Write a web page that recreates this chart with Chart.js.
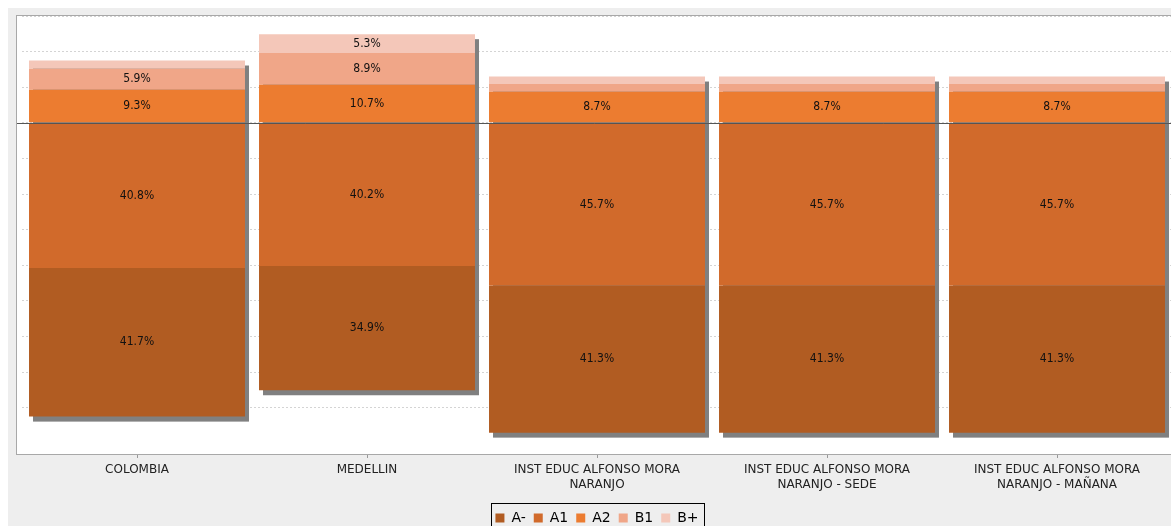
<!DOCTYPE html>
<html>
<head>
<meta charset="utf-8">
<script src="https://cdn.jsdelivr.net/npm/chart.js@4.4.0/dist/chart.umd.min.js"></script>
<style>
html, body { margin: 0; padding: 0; overflow: hidden; background: #fff; }
#wrap { width: 1176px; height: 535px; }
</style>
</head>
<body>
<div id="wrap"><canvas id="levelsChart"></canvas></div>
<script>
var categories = [
    'COLOMBIA',
    'MEDELLIN',
    ['INST EDUC ALFONSO MORA', 'NARANJO'],
    ['INST EDUC ALFONSO MORA', 'NARANJO - SEDE'],
    ['INST EDUC ALFONSO MORA', 'NARANJO - MAÑANA']
];
var levelAminus = [41.7, 34.9, 41.3, 41.3, 41.3];
var levelA1 = [40.8, 40.2, 45.7, 45.7, 45.7];
var levelA2 = [9.3, 10.7, 8.7, 8.7, 8.7];
var levelB1 = [5.9, 8.9, 2.2, 2.2, 2.2];
var levelBplus = [2.3, 5.3, 2.1, 2.1, 2.1];
var yMin = -93;
var yMax = 30;
var yStep = 10;

// panel background (white plot area on grey)
var panelPlugin = {
    id: 'panel',
    beforeDraw: function(chart) {
        var ctx = chart.ctx, a = chart.chartArea;
        var left = a.left - 5;
        ctx.save();
        ctx.fillStyle = '#ffffff';
        ctx.fillRect(0, 0, chart.width, chart.height);
        ctx.fillStyle = '#eeeeee';
        ctx.fillRect(8, 8, chart.width - 8, chart.height - 8);
        ctx.fillStyle = '#ffffff';
        ctx.fillRect(left, a.top, a.right - left, a.bottom - a.top);
        ctx.restore();
    }
};

// grey drop shadow behind each whole stack
var shadowPlugin = {
    id: 'barShadow',
    beforeDatasetsDraw: function(chart) {
        var ctx = chart.ctx, a = chart.chartArea, y = chart.scales.y;
        var meta = chart.getDatasetMeta(0);
        var left = a.left - 5;
        ctx.save();
        // plot frame, drawn over the edge grid lines
        ctx.strokeStyle = '#a8a8a8';
        ctx.lineWidth = 1;
        ctx.strokeRect(left - 0.5, a.top - 0.5, a.right - left + 1, a.bottom - a.top + 1);
        ctx.fillStyle = '#808080';
        meta.data.forEach(function(bar, i) {
            var top = y.getPixelForValue(levelA2[i] + levelB1[i] + levelBplus[i]);
            var bottom = y.getPixelForValue(-(levelAminus[i] + levelA1[i]));
            ctx.fillRect(bar.x - bar.width / 2 + 4, top + 5, bar.width, bottom - top);
        });
        ctx.restore();
    }
};

// percent labels + zero line
var labelPlugin = {
    id: 'segLabels',
    afterDatasetsDraw: function(chart) {
        var ctx = chart.ctx, a = chart.chartArea, y = chart.scales.y;
        ctx.save();
        ctx.font = '12px "DejaVu Sans Condensed", "DejaVu Sans"';
        ctx.fillStyle = '#111111';
        ctx.textAlign = 'center';
        ctx.textBaseline = 'middle';
        chart.data.datasets.forEach(function(ds, d) {
            chart.getDatasetMeta(d).data.forEach(function(bar, i) {
                var v = Math.abs(ds.data[i]);
                if (v < 5) return;
                ctx.fillText(v.toFixed(1) + '%', bar.x, (bar.y + bar.base) / 2);
            });
        });
        var y0 = Math.round(y.getPixelForValue(0)) + 0.5;
        ctx.strokeStyle = '#555555';
        ctx.lineWidth = 1;
        ctx.beginPath();
        ctx.moveTo(a.left - 5, y0);
        ctx.lineTo(a.right, y0);
        ctx.stroke();
        ctx.restore();
    }
};

// black frame round the legend
var legendFramePlugin = {
    id: 'legendFrame',
    afterDraw: function(chart) {
        var boxes = chart.legend.legendHitBoxes;
        if (!boxes || !boxes.length) return;
        var left = Math.min.apply(null, boxes.map(function(b) { return b.left; })) - 4;
        var right = Math.max.apply(null, boxes.map(function(b) { return b.left + b.width; })) + 6;
        var top = boxes[0].top - 8;
        var ctx = chart.ctx;
        ctx.save();
        ctx.strokeStyle = '#000000';
        ctx.lineWidth = 1;
        ctx.strokeRect(Math.round(left) + 0.5, Math.round(top) + 0.5, Math.round(right - left), 40);
        ctx.restore();
    }
};

function neg(arr) {
    return arr.map(function(v) { return -v; });
}

var config = {
    type: 'bar',
    data: {
        labels: categories,
        datasets: [
            { label: 'A-', data: neg(levelAminus), backgroundColor: '#b15c22', order: 1 },
            { label: 'A1', data: neg(levelA1), backgroundColor: '#d16a2b', order: 0 },
            { label: 'A2', data: levelA2, backgroundColor: '#ec7c30', order: 0 },
            { label: 'B1', data: levelB1, backgroundColor: '#f0a688', order: 0 },
            { label: 'B+', data: levelBplus, backgroundColor: '#f4c7b9', order: 0 }
        ]
    },
    options: {
        responsive: true,
        maintainAspectRatio: false,
        animation: false,
        devicePixelRatio: 1,
        layout: {
            padding: { left: 22, top: 16, right: 4, bottom: 0 }
        },
        datasets: {
            bar: {
                borderWidth: 0,
                barPercentage: 0.939,
                categoryPercentage: 1
            }
        },
        plugins: {
            tooltip: { enabled: false },
            legend: {
                position: 'bottom',
                labels: {
                    boxWidth: 9,
                    boxHeight: 9,
                    padding: 8,
                    color: '#000000',
                    font: { family: '"DejaVu Sans"', size: 14 },
                    sort: function(a, b) { return a.datasetIndex - b.datasetIndex; }
                }
            }
        },
        scales: {
            x: {
                stacked: true,
                grid: {
                    offset: false,
                    drawOnChartArea: false,
                    drawTicks: true,
                    tickLength: 4,
                    color: '#999999'
                },
                border: { display: false },
                ticks: {
                    padding: 4,
                    color: '#222222',
                    maxRotation: 0,
                    autoSkip: false,
                    font: { family: '"DejaVu Sans"', size: 12, lineHeight: 1.25 }
                },
                afterFit: function(scale) {
                    scale.height += 7;
                }
            },
            y: {
                stacked: true,
                min: yMin,
                max: yMax,
                grid: {
                    drawTicks: false,
                    color: '#d4d4d4'
                },
                border: { display: false, dash: [2, 2] },
                ticks: {
                    display: false,
                    stepSize: yStep
                }
            }
        }
    },
    plugins: [panelPlugin, shadowPlugin, labelPlugin, legendFramePlugin]
};

new Chart(document.getElementById('levelsChart'), config);
</script>
</body>
</html>
